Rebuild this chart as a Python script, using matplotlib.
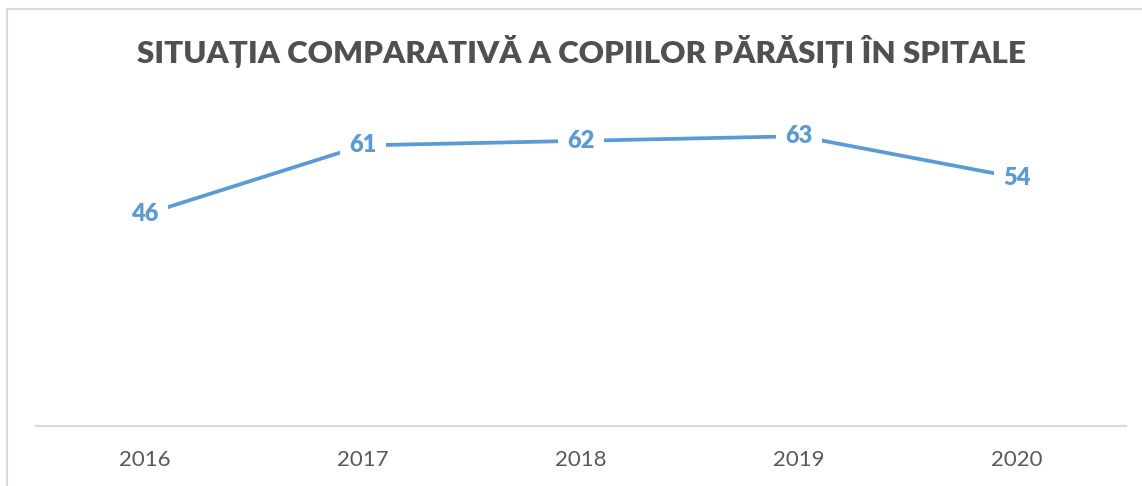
import matplotlib.pyplot as plt
from matplotlib.patches import Rectangle

years = ["2016", "2017", "2018", "2019", "2020"]
copii = [46, 61, 62, 63, 54]

LINE_COLOR = "#5B9BD5"
TEXT_GRAY = "#595959"

plt.rcParams["font.family"] = ["Lato", "DejaVu Sans"]

fig = plt.figure(figsize=(11.42, 4.86), dpi=100)
W, H = 1142, 486

# thin frame around the chart area (left and top edges only)
fig.patches.append(Rectangle((7 / W, -0.1), 1.2, 1.1 - 9.5 / H,
                             transform=fig.transFigure, fill=False,
                             edgecolor="#D9D9D9", linewidth=1.5))

ax = fig.add_axes([36 / W, 1 - 426 / H, (1126 - 36) / W, (426 - 104) / H])
x = list(range(len(years)))
ax.plot(x, copii, color=LINE_COLOR, linewidth=2.7, solid_capstyle="butt")

for xi, v in zip(x, copii):
    ax.text(xi, v, str(v), ha="center", va="center", fontsize=17,
            fontweight="heavy", color=LINE_COLOR,
            bbox=dict(boxstyle="square,pad=0.4", facecolor="white",
                      edgecolor="none"))

ax.set_xlim(-0.5, len(years) - 0.5)
ax.set_ylim(0, 70)
ax.set_xticks(x)
ax.set_xticklabels(years, fontsize=16, color=TEXT_GRAY)
ax.tick_params(axis="x", length=0, pad=17)
ax.set_yticks([])
for side in ["left", "right", "top"]:
    ax.spines[side].set_visible(False)
ax.spines["bottom"].set_color("#D9D9D9")
ax.spines["bottom"].set_linewidth(1.5)

fig.text(581 / W, 1 - 52 / H, "SITUAȚIA COMPARATIVĂ A COPIILOR PĂRĂSIȚI ÎN SPITALE",
         ha="center", va="center", fontsize=22.5, fontweight="heavy", color="#505050")

fig.savefig("out.png", dpi=100)
